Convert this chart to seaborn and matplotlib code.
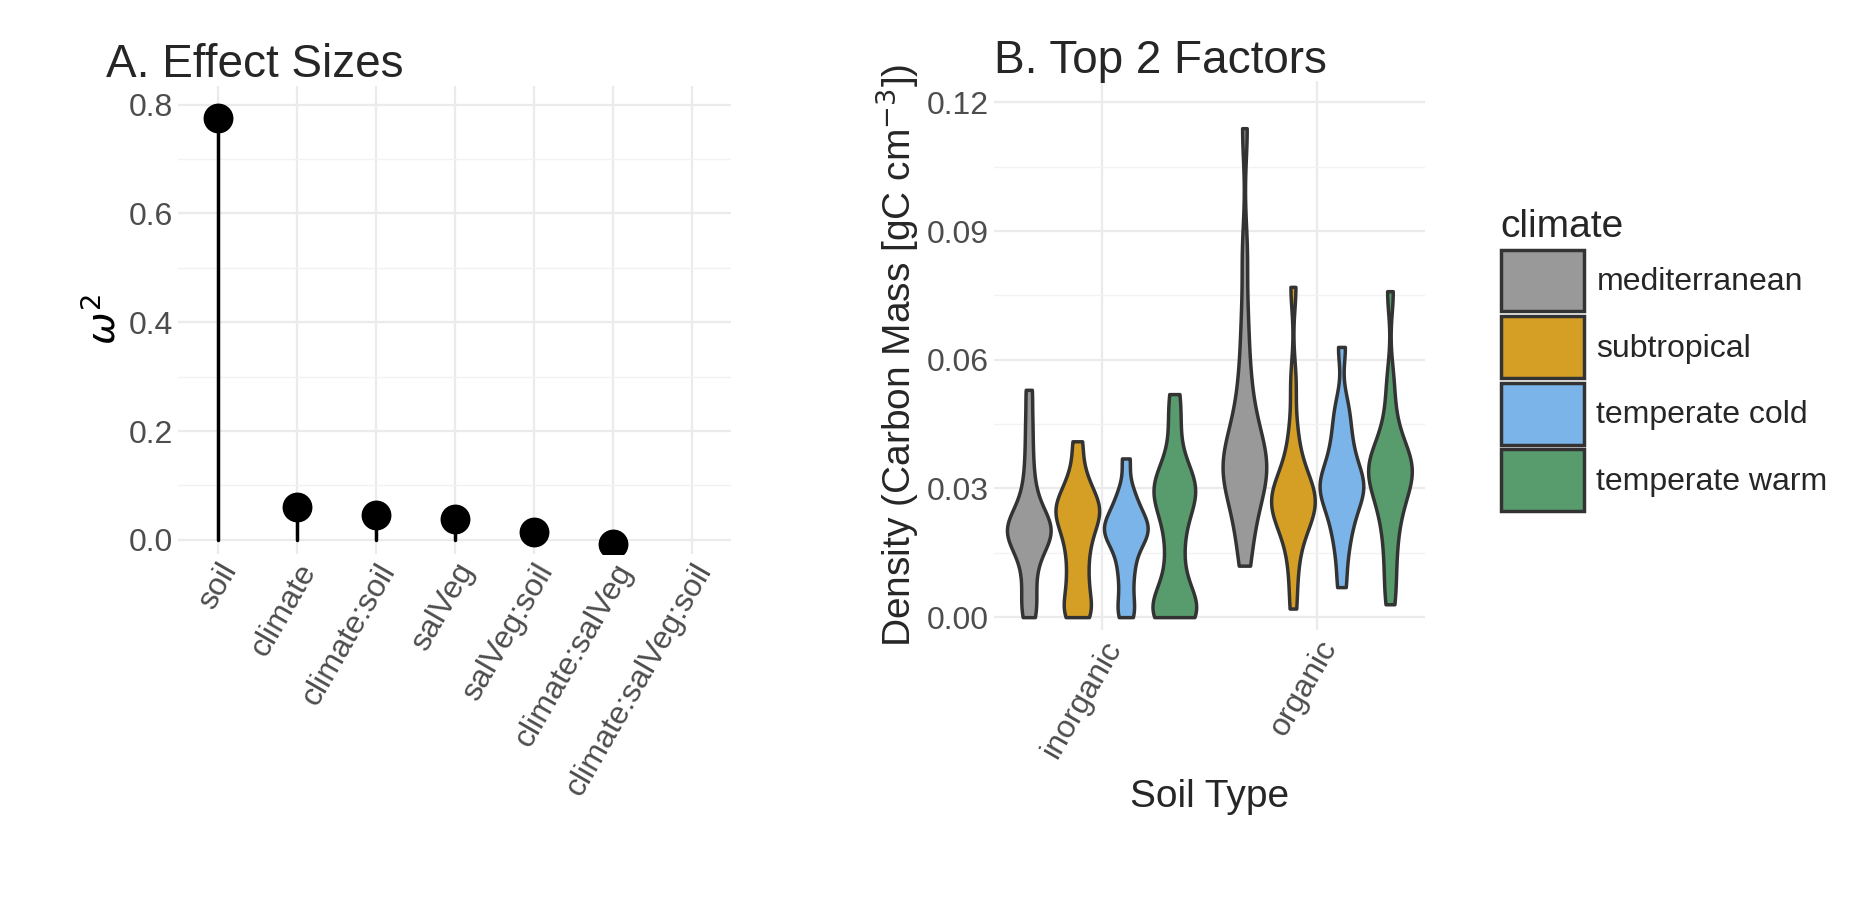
import matplotlib
matplotlib.use("Agg")
import matplotlib.pyplot as plt
import seaborn as sns
import pandas as pd
import numpy as np
from matplotlib.patches import Patch

terms = ["soil", "climate", "climate:soil", "salVeg", "salVeg:soil", "climate:salVeg", "climate:salVeg:soil"]
omega2 = [0.775, 0.060, 0.045, 0.038, 0.015, -0.007, np.nan]

climates = ["mediterranean", "subtropical", "temperate cold", "temperate warm"]
colors = ["#999999", "#D59F26", "#7AB4E8", "#589C6E"]
soils = ["inorganic", "organic"]

# approximate sample values (gC cm^-3) read off the violin shapes
samples = {
    ("inorganic", "mediterranean"): [0.0, 0.002, 0.006, 0.010, 0.014, 0.016, 0.018, 0.019, 0.020, 0.020, 0.021, 0.022, 0.023, 0.025, 0.028, 0.032, 0.038, 0.045, 0.053],
    ("inorganic", "subtropical"): [0.0, 0.001, 0.003, 0.007, 0.010, 0.014, 0.017, 0.020, 0.022, 0.024, 0.025, 0.026, 0.028, 0.030, 0.034, 0.041],
    ("inorganic", "temperate cold"): [0.0, 0.002, 0.006, 0.010, 0.013, 0.016, 0.018, 0.019, 0.020, 0.021, 0.022, 0.023, 0.025, 0.027, 0.030, 0.037],
    ("inorganic", "temperate warm"): [0.0, 0.0, 0.001, 0.002, 0.003, 0.005, 0.010, 0.015, 0.020, 0.024, 0.027, 0.029, 0.030, 0.031, 0.033, 0.037, 0.045, 0.052],
    ("organic", "mediterranean"): [0.012, 0.017, 0.022, 0.026, 0.029, 0.031, 0.033, 0.034, 0.035, 0.036, 0.037, 0.039, 0.041, 0.044, 0.048, 0.053, 0.060, 0.070, 0.085, 0.114],
    ("organic", "subtropical"): [0.002, 0.010, 0.016, 0.020, 0.022, 0.024, 0.025, 0.026, 0.027, 0.028, 0.029, 0.030, 0.032, 0.034, 0.038, 0.044, 0.055, 0.077],
    ("organic", "temperate cold"): [0.007, 0.014, 0.019, 0.022, 0.025, 0.027, 0.029, 0.030, 0.031, 0.032, 0.034, 0.036, 0.039, 0.042, 0.046, 0.050, 0.063],
    ("organic", "temperate warm"): [0.003, 0.009, 0.015, 0.020, 0.024, 0.027, 0.029, 0.031, 0.033, 0.034, 0.035, 0.036, 0.037, 0.039, 0.042, 0.047, 0.055, 0.076],
}

rows = [(s, c, v) for (s, c), vals in samples.items() for v in vals]
df = pd.DataFrame(rows, columns=["soil", "climate", "value"])

sns.set_theme(style="whitegrid")
plt.rcParams["font.family"] = ["Liberation Sans", "DejaVu Sans"]
plt.rcParams["grid.color"] = "#EBEBEB"
plt.rcParams["grid.linewidth"] = 1.6

fig = plt.figure(figsize=(18.75, 9), dpi=100)
ax1 = fig.add_axes([0.095, 0.385, 0.295, 0.52])
ax2 = fig.add_axes([0.53, 0.30, 0.23, 0.61])

# Panel A
x = np.arange(len(terms))
for xi, v in zip(x, omega2):
    if not np.isnan(v):
        ax1.plot([xi, xi], [0, v], color="black", lw=2.5, zorder=2)
ax1.scatter(x, omega2, s=420, color="black", zorder=3)
ax1.set_xlim(-0.5, len(terms) - 0.5)
ax1.set_ylim(-0.025, 0.835)
ax1.set_yticks([0, 0.2, 0.4, 0.6, 0.8])
ax1.set_yticklabels(["0.0", "0.2", "0.4", "0.6", "0.8"])
ax1.set_yticks([0.1, 0.3, 0.5, 0.7], minor=True)
ax1.grid(True, which="minor", axis="y", color="#F2F2F2", lw=1.0)
ax1.set_xticks(x)
ax1.set_xticklabels(terms, rotation=60, ha="right", rotation_mode="anchor")
ax1.set_ylabel(r"$\omega^2$", fontsize=28, color="black")
ax1.set_title("A. Effect Sizes", loc="left", fontsize=33, x=-0.13)
ax1.tick_params(axis="both", labelsize=23, labelcolor="#4D4D4D", length=0)

# Panel B
sns.violinplot(data=df, x="soil", y="value", hue="climate", order=soils, hue_order=climates,
               palette=colors, cut=0, inner=None, density_norm="width", linewidth=2.5,
               linecolor="#333333", saturation=1, bw_adjust=0.55, width=0.9, gap=0.1,
               ax=ax2, legend=False)
ax2.set_ylim(-0.003, 0.125)
ax2.set_yticks([0, 0.03, 0.06, 0.09, 0.12])
ax2.set_yticklabels(["0.00", "0.03", "0.06", "0.09", "0.12"])
ax2.set_yticks([0.015, 0.045, 0.075, 0.105], minor=True)
ax2.grid(True, which="minor", axis="y", color="#F2F2F2", lw=1.0)
ax2.grid(True, which="major", axis="x")
ax2.set_xticks([0, 1])
ax2.set_xticklabels(soils, rotation=60, ha="right", rotation_mode="anchor")
ax2.set_xlabel("Soil Type", fontsize=28, labelpad=12)
ax2.set_ylabel(r"Density (Carbon Mass [gC cm$^{-3}$])", fontsize=28)
ax2.set_title("B. Top 2 Factors", loc="left", fontsize=33)
ax2.tick_params(axis="both", labelsize=23, labelcolor="#4D4D4D", length=0)
for a in (ax1, ax2):
    for sp in a.spines.values():
        sp.set_visible(False)

handles = [Patch(facecolor=c, edgecolor="#333333", lw=2.5) for c in colors]
leg = fig.legend(handles, climates, loc="center left", bbox_to_anchor=(0.785, 0.6), frameon=False,
                 fontsize=23, title="climate", title_fontsize=28, handlelength=2.6, handleheight=2.6,
                 handletextpad=0.4, labelspacing=0.15, alignment="left")
fig.savefig("out.png", dpi=100, facecolor="white")
